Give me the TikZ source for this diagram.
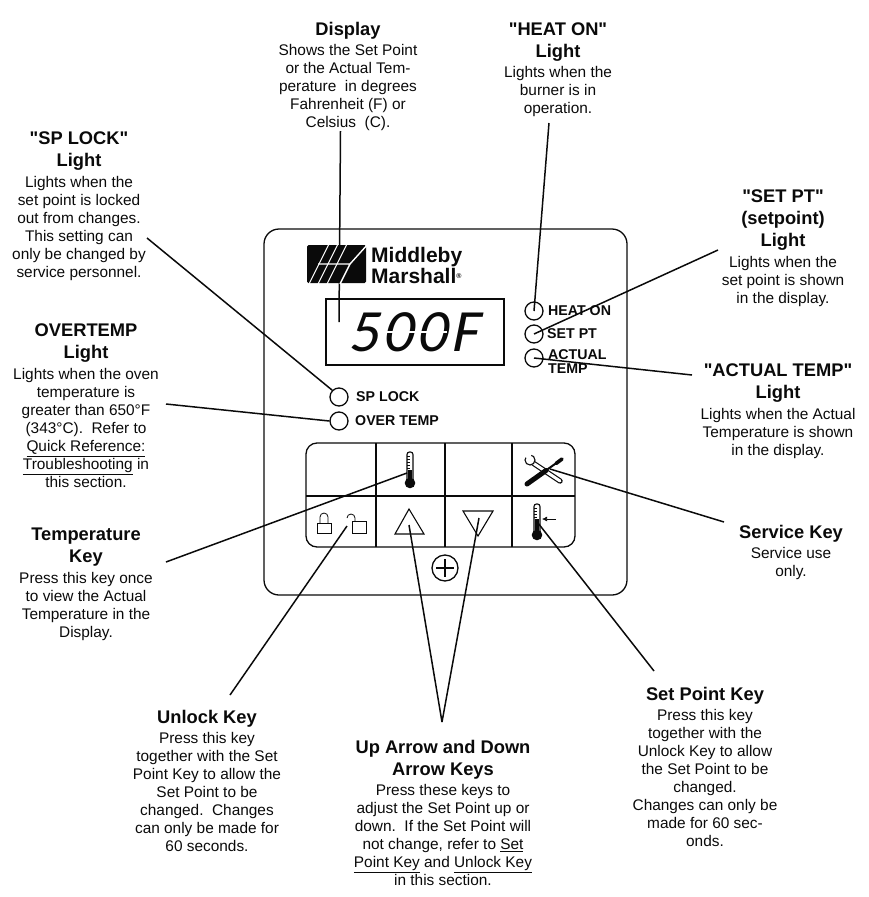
\documentclass[tikz,border=0pt]{standalone}
\usepackage{fontspec}
\setmainfont{Liberation Sans}
\newfontfamily\dispfont[FakeSlant=0.2,LetterSpace=6]{Carlito}
\usepackage{tikz}
\usetikzlibrary{arrows.meta, positioning, calc}

\definecolor{inkblack}{HTML}{0A0A0A}
\tikzset{
  infotitle/.style={font=\fontsize{18.3}{22}\selectfont\bfseries, align=center, inner sep=0pt, anchor=north, text=inkblack},
  infotext/.style={font=\fontsize{15.4}{18}\selectfont, align=center, inner sep=0pt, text=inkblack},
  panelline/.style={draw=inkblack, line width=1.3pt},
  leader/.style={draw=inkblack, line width=1.5pt},
  ledlamp/.style={circle, draw=inkblack, line width=1.3pt, minimum size=18pt, inner sep=0pt},
  ledlabel/.style={font=\fontsize{14.2}{14}\selectfont\bfseries, inner sep=0pt, anchor=west, align=left, text=inkblack},
  keyicon/.style={draw=inkblack, line width=1.1pt},
  lockicon/.style={draw=inkblack, line width=0.8pt},
}
\newcommand{\dq}{\XeTeXglyph\XeTeXcharglyph"22 }
\newcommand{\infoblock}[5]{%
  \node[infotitle] (#1Title) at (#2,#3) {#4};
  \node[infotext, below=5pt of #1Title] (#1Text) {#5};
}

\begin{document}
\begin{tikzpicture}[x=1pt, y=-1pt]
\useasboundingbox (0,0) rectangle (869,897);

% panel and display
\draw[panelline, rounded corners=15pt] (264,229) rectangle (627,595);
\node[panelline, minimum width=178pt, minimum height=66pt, inner sep=0pt] (display) at (415,332) {};
\node[font=\dispfont\fontsize{60}{60}\selectfont, inner sep=0pt, text=inkblack] (readout) at (413,332) {500F};
\foreach \gapx in {396,430} {
  \draw[white, line width=2pt] ({\gapx-17},332) -- ({\gapx+17},332);
}

% lamps
\node[ledlamp] (ledHeat) at (534,311) {};
\node[ledlamp] (ledSet) at (534,334) {};
\node[ledlamp] (ledActual) at (534,358) {};
\node[ledlamp] (ledLock) at (339,397) {};
\node[ledlamp] (ledOver) at (339,421) {};
\node[ledlabel] (lblHeat) at (548,311) {HEAT ON};
\node[ledlabel] (lblSet) at (547,334) {SET PT};
\node[ledlabel] (lblActual) at (548,362) {ACTUAL\\TEMP};
\node[ledlabel] (lblLock) at (356,397) {SP LOCK};
\node[ledlabel] (lblOver) at (355,421) {OVER TEMP};

% keypad
\draw[panelline, rounded corners=11pt] (306,443) rectangle (575,547);
\draw[panelline] (306,496) -- (575,496);
\foreach \keyx in {376,445,512} {
  \draw[panelline] (\keyx,443) -- (\keyx,547);
}
\node[circle, panelline, minimum size=26pt, inner sep=0pt] (screw) at (445,568) {};
\draw[panelline] ($(screw)+(-9,0)$) -- ($(screw)+(9,0)$);
\draw[panelline] ($(screw)+(0,-9)$) -- ($(screw)+(0,9)$);

% key symbols
\draw[keyicon, rounded corners=2.5pt] (407,482) -- (407,452) -- (413,452) -- (413,482);
\fill[inkblack] (410,483) circle (5.3pt);
\fill[inkblack] (408,470) rectangle (412,483);
\foreach \ticky in {456,459,462,465,468} {
  \draw[inkblack, line width=0.6pt] (407,\ticky) -- (410,\ticky);
}
\draw[keyicon, rounded corners=2.5pt] (534,534) -- (534,504) -- (540,504) -- (540,534);
\fill[inkblack] (537,535) circle (5.3pt);
\fill[inkblack] (535,519) rectangle (539,535);
\foreach \ticky in {508,511,514,517} {
  \draw[inkblack, line width=0.6pt] (534,\ticky) -- (537,\ticky);
}
\draw[inkblack, line width=0.7pt, -{Latex[length=5pt,width=5pt]}] (556,519) -- (542,519);
\coordinate (upTip) at (409,509);
\draw[keyicon] (upTip) -- (395,534) -- (424,534) -- cycle;
\coordinate (downTip) at (478,536);
\draw[keyicon] (downTip) -- (463,511) -- (493,511) -- cycle;
% padlocks
\draw[lockicon] (317,523) rectangle (331,533);
\draw[lockicon] (320,523) -- (320,517) arc[start angle=180, end angle=0, radius=4pt] -- (328,523);
\draw[lockicon] (352,521) rectangle (366,533);
\draw[lockicon] (347,518) arc[start angle=180, end angle=0, radius=4pt] -- (355,521);
% tools
\draw[inkblack, line width=5.4pt, line cap=round] (533,463) -- (560,481);
\draw[white, line width=3pt, line cap=round] (533,463) -- (560,481);
\draw[keyicon, fill=white] (530,460) circle (5pt);
\fill[white] (523,456) -- (531,451) -- (531,460) -- cycle;
\draw[inkblack, line width=2pt, line cap=round] (527,484) -- (562,459);
\draw[inkblack, line width=5pt, line cap=round] (527,484) -- (546,470.5);
\draw[inkblack, line width=3.6pt, line cap=round] (556,463.5) -- (562,459);

% leader lines
\coordinate (dispFoot) at (340.5,131);
\coordinate (dispEnd) at (339,322);
\coordinate (heatFoot) at (549,123);
\coordinate (setFoot) at (718,250);
\coordinate (actualFoot) at (692,375);
\coordinate (lockFoot) at (147,238);
\coordinate (overFoot) at (166,404);
\coordinate (tempFoot) at (166,562);
\coordinate (tempEnd) at (407,473);
\coordinate (unlockFoot) at (230,695);
\coordinate (unlockEnd) at (347,526);
\coordinate (arrowFoot) at (442,722);
\coordinate (upEnd) at (409,525);
\coordinate (downEnd) at (479,518);
\coordinate (setKeyFoot) at (654,671);
\coordinate (setKeyEnd) at (538,523);
\coordinate (serviceFoot) at (724,522);
\coordinate (serviceEnd) at (550,469);
\draw[leader] (dispFoot) -- (dispEnd);
\draw[leader] (heatFoot) -- (ledHeat.center);
\draw[leader] (setFoot) -- (ledSet.center);
\draw[leader] (actualFoot) -- (ledActual.center);
\draw[leader] (lockFoot) -- (ledLock.135);
\draw[leader] (overFoot) -- (ledOver.west);
\draw[leader] (tempFoot) -- (tempEnd);
\draw[leader] (unlockFoot) -- (unlockEnd);
\draw[leader] (arrowFoot) -- (upEnd);
\draw[leader] (arrowFoot) -- (downEnd);
\draw[leader] (setKeyFoot) -- (setKeyEnd);
\draw[leader] (serviceFoot) -- (serviceEnd);

% logo
\fill[inkblack, rounded corners=1.5pt] (307,245) rectangle (366,283);
\foreach \stripex in {329,338,347} {
  \draw[white, line width=1.1pt] (\stripex,244) -- ({\stripex-10},264);
  \draw[white, line width=1.1pt] ({\stripex-10},264) -- ({\stripex-20},284);
}
\draw[white, line width=1.4pt] (318,264) -- (350,264) -- (340,284);
\draw[white, line width=1.4pt] (368,244) -- (350,264);
\node[font=\fontsize{21}{21}\selectfont\bfseries, inner sep=0pt, anchor=west, align=left, text=inkblack] (logoName) at (371,265) {Middleby\\Marshall\raisebox{5pt}{\fontsize{7}{7}\selectfont\textregistered}};

% callouts
\infoblock{disp}{348}{22}{Display}{Shows the Set Point\\or the Actual Tem-\\perature\ \ in degrees\\Fahrenheit (F) or\\Celsius\ \ (C).}
\infoblock{heat}{558}{22.5}{\dq HEAT ON\dq\\Light}{Lights when the\\burner is in\\operation.}
\infoblock{lock}{79}{132}{\dq SP LOCK\dq\\Light}{Lights when the\\set point is locked\\out from changes.\\This setting can\\only be changed by\\service personnel.}
\infoblock{setpt}{783}{190}{\dq SET PT\dq\\(setpoint)\\Light}{Lights when the\\set point is shown\\in the display.}
\infoblock{over}{86}{324}{OVERTEMP\\Light}{Lights when the oven\\temperature is\\greater than 650°F\\(343°C).\ \ Refer to\\\underline{Quick Reference:}\\\underline{Troubleshooting} in\\this section.}
\infoblock{actual}{778}{364}{\dq ACTUAL TEMP\dq\\Light}{Lights when the Actual\\Temperature is shown\\in the display.}
\infoblock{temp}{86}{528}{Temperature\\Key}{Press this key once\\to view the Actual\\Temperature in the\\Display.}
\infoblock{service}{791}{525}{Service Key}{Service use\\only.}
\infoblock{unlock}{207}{710}{Unlock Key}{Press this key\\together with the Set\\Point Key to allow the\\Set Point to be\\changed.\ \ Changes\\can only be made for\\60 seconds.}
\infoblock{arrows}{443}{740}{Up Arrow and Down\\Arrow Keys}{Press these keys to\\adjust the Set Point up or\\down.\ \ If the Set Point will\\not change, refer to \underline{Set}\\\underline{Point Key} and \underline{Unlock Key}\\in this section.}
\infoblock{setkey}{705}{687}{Set Point Key}{Press this key\\together with the\\Unlock Key to allow\\the Set Point to be\\changed.\\Changes can only be\\made for 60 sec-\\onds.}
\end{tikzpicture}
\end{document}
